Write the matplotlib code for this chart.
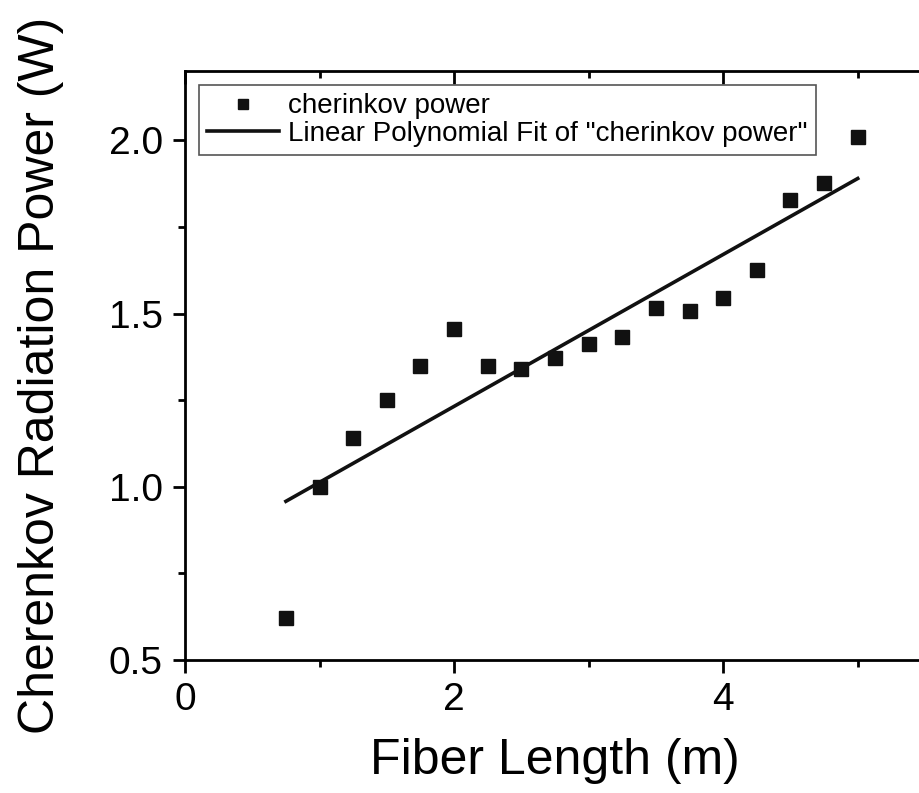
import numpy as np
import matplotlib
matplotlib.use('Agg')
import matplotlib.pyplot as plt
from matplotlib.ticker import MultipleLocator

# values
fiber_length = [0.75, 1.0, 1.25, 1.5, 1.75, 2.0, 2.25, 2.5, 2.75,
                3.0, 3.25, 3.5, 3.75, 4.0, 4.25, 4.5, 4.75, 5.0]
cherinkov_power = [0.62, 1.00, 1.14, 1.25, 1.35, 1.455, 1.35, 1.34, 1.372,
                   1.413, 1.433, 1.516, 1.506, 1.546, 1.626, 1.827, 1.877, 2.009]

x_ticks = [0, 2, 4]
y_ticks = [0.5, 1.0, 1.5, 2.0]

plt.rcParams['font.family'] = ['Liberation Sans', 'DejaVu Sans']

fig = plt.figure(figsize=(9.19, 7.93), dpi=100)
ax = fig.add_axes([185 / 919, 133 / 793, 740 / 919, 589 / 793])

ax.plot(fiber_length, cherinkov_power, 's', color='#111111', markersize=9.5,
        label='cherinkov power')

# linear fit of the points
slope, intercept = np.polyfit(fiber_length, cherinkov_power, 1)
fit_x = np.array([fiber_length[0], fiber_length[-1]])
ax.plot(fit_x, slope * fit_x + intercept, '-', color='#111111', linewidth=2.6,
        label='Linear Polynomial Fit of "cherinkov power"')

ax.set_xlim(0, 5.5)
ax.set_ylim(0.5, 2.2)
ax.set_xticks(x_ticks)
ax.set_yticks(y_ticks)
ax.set_yticklabels(['%.1f' % v for v in y_ticks])
ax.xaxis.set_minor_locator(MultipleLocator(1))
ax.yaxis.set_minor_locator(MultipleLocator(0.25))

for s in ax.spines.values():
    s.set_linewidth(2)
ax.spines['right'].set_visible(False)

ax.tick_params(axis='both', which='major', labelsize=28, width=2, length=9, pad=7)
ax.tick_params(axis='both', which='minor', width=2, length=5)
ax.tick_params(axis='x', which='both', direction='out', top=True)
ax.tick_params(axis='y', which='both', direction='out', right=False)
# top ticks point inward
for t in ax.xaxis.get_major_ticks() + ax.xaxis.get_minor_ticks():
    t.tick2line.set_marker(3)

ax.set_xlabel('Fiber Length (m)', fontsize=36, labelpad=14)
ax.set_ylabel('Cherenkov Radiation Power (W)', fontsize=36)
ax.yaxis.set_label_coords(-0.163, 0.484)

leg = ax.legend(loc='upper left', bbox_to_anchor=(0, 1), borderaxespad=0.5,
                fontsize=20, frameon=True, fancybox=False, framealpha=1,
                edgecolor='#555555', handlelength=2.6, handletextpad=0.3,
                labelspacing=0.05, borderpad=0.3, markerscale=0.75)
leg.get_frame().set_linewidth(1.2)

fig.savefig('out.png', dpi=100)
